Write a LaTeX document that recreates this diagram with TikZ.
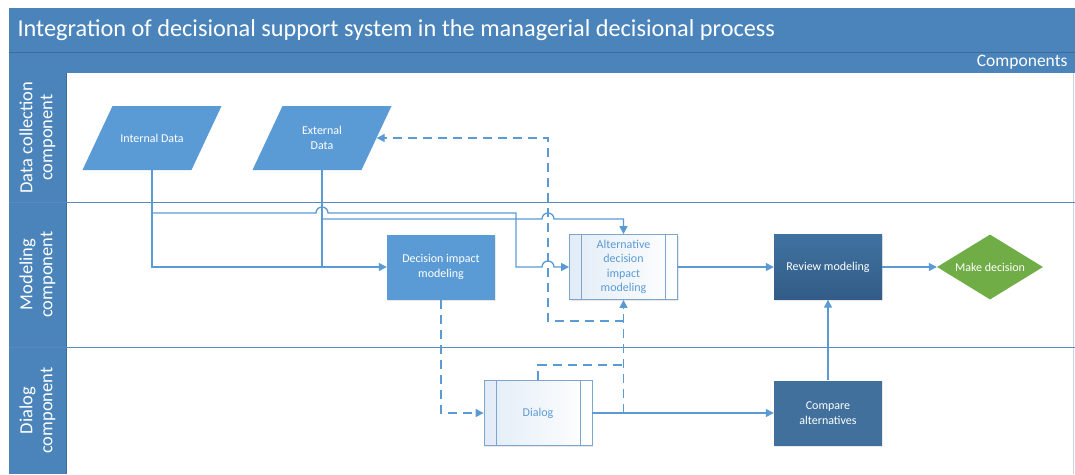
\documentclass[tikz,border=0pt]{standalone}
\usepackage{fontspec}
\setmainfont{Carlito}
\usetikzlibrary{arrows.meta,positioning,shapes.geometric,shadows}
\definecolor{headblue}{RGB}{74,132,187}
\definecolor{headline}{RGB}{60,108,156}
\definecolor{flowblue}{RGB}{91,155,213}
\definecolor{laneline}{RGB}{88,138,190}
\definecolor{revlight}{RGB}{64,114,161}
\definecolor{revdark}{RGB}{50,92,134}
\definecolor{cmpblue}{RGB}{65,112,156}
\definecolor{okgreen}{RGB}{112,173,71}
\definecolor{subedge}{RGB}{125,165,205}
\definecolor{subpale}{RGB}{226,236,246}

\tikzset{
  flow/.style={draw=flowblue, line width=1.3pt, -{Triangle[length=8pt,width=8pt]}},
  link/.style={draw=flowblue, line width=1.3pt},
  dflow/.style={flow, dash pattern=on 9pt off 6pt},
  dlink/.style={link, dash pattern=on 9pt off 6pt},
  boxfont/.style={font=\fontsize{12}{14.5}\selectfont},
  box/.style={rectangle, boxfont, minimum width=108pt, minimum height=65pt,
    align=center, text=white, inner sep=2pt,
    drop shadow={shadow xshift=1.2pt, shadow yshift=-1.2pt, opacity=0.18}},
  datatext/.style={rectangle, boxfont, minimum width=109pt, minimum height=64pt,
    align=center, text=white, inner sep=1pt},
  subbox/.style={box, draw=subedge, line width=0.8pt, left color=subpale,
    right color=white, text=flowblue,
    path picture={
      \draw[subedge, line width=0.8pt]
        ([xshift=12pt]path picture bounding box.north west) --
        ([xshift=12pt]path picture bounding box.south west);
      \draw[subedge, line width=0.8pt]
        ([xshift=-12pt]path picture bounding box.north east) --
        ([xshift=-12pt]path picture bounding box.south east);
    }},
  lanelabel/.style={rotate=90, align=center, text=white,
    font=\fontsize{18.5}{20}\selectfont},
}

\begin{document}
\begin{tikzpicture}[x=1pt, y=-1pt]
  \useasboundingbox (0,0) rectangle (1075,474);
  \fill[white] (0,0) rectangle (1075,474);

  % Title and component bars
  \fill[headblue] (9,8) rectangle (1075,73);
  \draw[headline, line width=0.6pt] (9,52.5) -- (1075,52.5);
  \node[anchor=west, text=white, font=\fontsize{24.3}{28}\selectfont] (title) at (14,30)
    {Integration of decisional support system in the managerial decisional process};
  \node[anchor=east, text=white, font=\fontsize{17.5}{20}\selectfont] (comp) at (1071,62.5) {Components};

  % Swim lanes
  \foreach \ya/\yb/\lab/\id in {
    73/202/{Data collection\\component}/data,
    202/347/{Modeling\\component}/model,
    347/474/{Dialog\\component}/dialog%
  }{
    \fill[headblue] (9,\ya) rectangle (66,\yb);
    \node[lanelabel] (lane-\id) at (37.5,{(\ya+\yb)/2}) {\lab};
  }
  \draw[headline, line width=0.6pt] (66,73) -- (66,474);
  \draw[laneline!35, line width=0.6pt] (1073,73) -- (1073,474);
  \draw[laneline, line width=0.9pt] (9,202) -- (1075,202);
  \draw[laneline, line width=0.9pt] (9,347) -- (1075,347);

  % Data sources (parallelograms)
  \foreach \id/\cx/\lab in {intd/152/{Internal Data}, extd/322/{External\\Data}}{
    \fill[flowblue] (\cx-69.5,170) -- (\cx+39.5,170) -- (\cx+69.5,106)
      -- (\cx-39.5,106) -- cycle;
    \node[datatext] (\id) at (\cx,138) {\lab};
  }

  % Process shapes
  \node[box, fill=flowblue] (dim) at (441,267) {Decision impact\\modeling};
  \node[subbox] (alt) at (623.5,267) {Alternative\\decision\\impact\\modeling};
  \node[box, top color=revlight, bottom color=revdark] (rev) at (828,267) {Review modeling};
  \node[diamond, aspect=1.6, minimum width=106pt, minimum height=65pt, inner sep=0pt,
    fill=okgreen, text=white, boxfont] (mkd) at (990,267) {Make decision};
  \node[subbox] (dlg) at (538,413) {Dialog};
  \node[box, fill=cmpblue] (cmp) at (828,413) {Compare\\alternatives};

  % Data feeds
  \draw[flow] (intd.south) |- (dim.west);
  \draw[link] (extd.south) -- (extd.south |- dim.west);
  \draw[flow] (152,213) -- (316,213) arc[start angle=180, end angle=360, radius=6]
    -- (516,213) -- (516,267) -- (542,267) arc[start angle=180, end angle=360, radius=6]
    -- (alt.west);
  \draw[flow] (322,219) -- (542,219) arc[start angle=180, end angle=360, radius=6]
    -| (alt.north);

  % Main flow
  \draw[flow] (alt.east) -- (rev.west);
  \draw[flow] (rev.east) -- (mkd.west);
  \draw[flow] (dlg.east) -- (cmp.west);
  \draw[flow] (cmp.north) -- (rev.south);

  % Feedback (dashed)
  \draw[dflow] (dim.south) |- (dlg.west);
  \draw[dlink] (dlg.north) |- (623.5,365);
  \draw[dflow] (alt.south |- dlg.east) -- (alt.south);
  \draw[dflow] (623.5,321) -| (548,138) -- (extd.east);
\end{tikzpicture}
\end{document}
